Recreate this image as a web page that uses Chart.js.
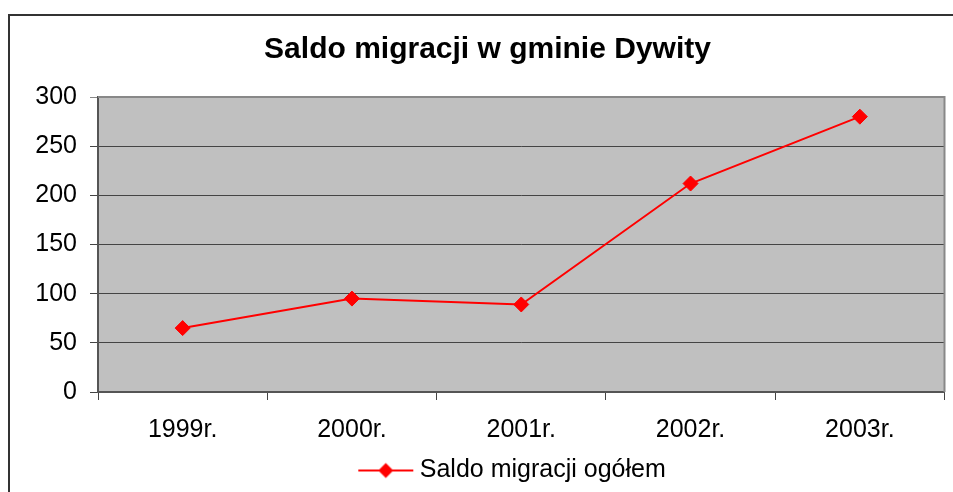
<!DOCTYPE html>
<html>
<head>
<meta charset="utf-8">
<title>Saldo migracji w gminie Dywity</title>
<script src="https://cdn.jsdelivr.net/npm/chart.js@4/dist/chart.umd.min.js"></script>
<style>
    html, body { margin: 0; padding: 0; background: #fff; }
    canvas { display: block; }
</style>
</head>
<body>
<canvas id="migrationChart" width="953" height="492"></canvas>
<script>
// Données du graphique
const years = ['1999r.', '2000r.', '2001r.', '2002r.', '2003r.'];
const saldoOgolem = [65, 95, 89, 212, 280];
const yTicks = [0, 50, 100, 150, 200, 250, 300];

const chartTitle = 'Saldo migracji w gminie Dywity';
const seriesLabel = 'Saldo migracji ogółem';

const FONT = "'Liberation Sans', Arial, sans-serif";
const RED = '#ff0000';

// Symbole de la légende : ligne + losange
function buildLegendSymbol() {
    const c = document.createElement('canvas');
    c.width = 116;
    c.height = 18;
    const g = c.getContext('2d');
    g.strokeStyle = RED;
    g.lineWidth = 2;
    g.beginPath();
    g.moveTo(58, 9);
    g.lineTo(113, 9);
    g.stroke();
    g.fillStyle = RED;
    g.beginPath();
    g.moveTo(85.5, 1.5);
    g.lineTo(93, 9);
    g.lineTo(85.5, 16.5);
    g.lineTo(78, 9);
    g.closePath();
    g.fill();
    return c;
}

// Cadre extérieur + fond gris de la zone de tracé
const framePlugin = {
    id: 'frame',
    beforeDraw(chart) {
        const ctx = chart.ctx;
        const a = chart.chartArea;
        ctx.save();
        ctx.fillStyle = '#fff';
        ctx.fillRect(0, 0, chart.width, chart.height);
        ctx.strokeStyle = '#333';
        ctx.lineWidth = 2;
        ctx.strokeRect(9, 15, 1000, 1000);
        ctx.fillStyle = '#c0c0c0';
        ctx.fillRect(a.left, a.top, a.right - a.left, a.bottom - a.top);
        ctx.restore();
    },
    beforeDatasetsDraw(chart) {
        const ctx = chart.ctx;
        const a = chart.chartArea;
        ctx.save();
        ctx.strokeStyle = '#888';
        ctx.lineWidth = 2;
        ctx.beginPath();
        ctx.moveTo(a.left, a.top);
        ctx.lineTo(a.right, a.top);
        ctx.lineTo(a.right, a.bottom);
        ctx.stroke();
        ctx.restore();
    }
};

const ctx = document.getElementById('migrationChart').getContext('2d');
new Chart(ctx, {
    type: 'line',
    data: {
        labels: years,
        datasets: [{
            label: seriesLabel,
            data: saldoOgolem,
            borderColor: RED,
            backgroundColor: RED,
            borderWidth: 2,
            pointStyle: 'rectRot',
            pointRadius: 7.5,
            pointBorderWidth: 1,
            tension: 0
        }]
    },
    options: {
        responsive: false,
        animation: false,
        devicePixelRatio: 1,
        layout: {
            padding: { left: 29, right: 7, top: 0, bottom: -1 }
        },
        plugins: {
            title: {
                display: true,
                text: chartTitle,
                color: '#000',
                font: { family: FONT, size: 30, weight: 'bold' },
                padding: { top: 32, bottom: 29 }
            },
            legend: {
                position: 'bottom',
                labels: {
                    color: '#000',
                    font: { family: FONT, size: 25 },
                    usePointStyle: true,
                    pointStyle: buildLegendSymbol(),
                    pointStyleWidth: 98,
                    boxHeight: 18,
                    padding: 10
                }
            },
            tooltip: { enabled: false }
        },
        scales: {
            x: {
                offset: true,
                afterFit(scale) {
                    scale.height -= 12;
                },
                grid: {
                    display: true,
                    offset: true,
                    drawOnChartArea: false,
                    drawTicks: true,
                    tickLength: 8,
                    color: '#444'
                },
                border: { display: true, color: '#555', width: 2 },
                ticks: {
                    color: '#000',
                    font: { family: FONT, size: 25 },
                    padding: 15,
                    maxRotation: 0
                }
            },
            y: {
                min: 0,
                max: 300,
                afterBuildTicks(scale) {
                    scale.ticks = yTicks.map(v => ({ value: v }));
                },
                afterFit(scale) {
                    scale.width = 69;
                },
                grid: {
                    drawTicks: true,
                    tickLength: 8,
                    color: c => (c.tick && c.tick.value === 300 ? '#888' : '#444'),
                    lineWidth: 1
                },
                border: { display: true, color: '#555', width: 2 },
                ticks: {
                    color: '#000',
                    font: { family: FONT, size: 25 },
                    padding: 13
                }
            }
        }
    },
    plugins: [framePlugin]
});
</script>
</body>
</html>
